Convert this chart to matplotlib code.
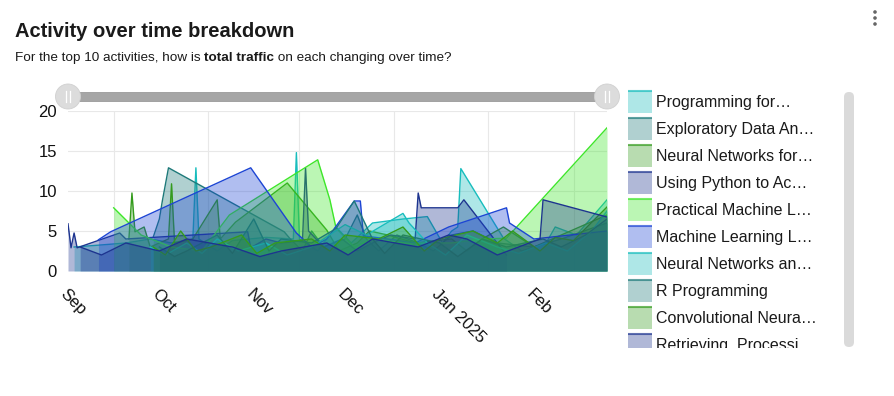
import matplotlib
matplotlib.use("Agg")
import matplotlib.pyplot as plt
from matplotlib.patches import Rectangle, FancyBboxPatch, Circle
import pandas as pd

plt.rcParams['font.family'] = ['Liberation Sans', 'DejaVu Sans']

title = "Activity over time breakdown"
sub_parts = [("For the top 10 activities, how is ", "normal"), ("total traffic", "bold"),
             (" on each changing over time?", "normal")]

legend_labels = ["Programming for\u2026", "Exploratory Data An\u2026", "Neural Networks for\u2026",
                 "Using Python to Ac\u2026", "Practical Machine L\u2026", "Machine Learning L\u2026",
                 "Neural Networks an\u2026", "R Programming", "Convolutional Neura\u2026",
                 "Retrieving, Processi\u2026"]

palette = ["#18bdbd", "#1d7979", "#349b1d", "#1d348f", "#3ee62a", "#1d45d4"]

s1_dates = ["2024-09-03", "2024-09-10", "2024-09-20", "2024-09-28", "2024-10-05", "2024-10-12",
            "2024-10-13", "2024-10-14", "2024-10-20", "2024-10-25", "2024-11-05", "2024-11-14",
            "2024-11-15", "2024-11-16", "2024-11-22", "2024-11-28", "2024-12-03", "2024-12-10",
            "2024-12-20", "2024-12-28", "2025-01-02", "2025-01-05", "2025-01-07", "2025-01-08",
            "2025-01-22", "2025-01-28", "2025-02-05", "2025-02-08", "2025-02-15", "2025-02-25"]
s1_vals = [3, 3.2, 3.5, 4, 3.5, 4, 12.9, 4, 2.5, 3.8, 4.2, 4, 14.8, 4, 2.5, 5.5, 3.5, 6, 6.5, 6.8,
           3.5, 5, 5.5, 12.8, 4.1, 2.5, 3.5, 5.5, 4.5, 8.9]

s2_dates = ["2024-09-29", "2024-10-01", "2024-10-02", "2024-10-04", "2024-11-11", "2024-11-13",
            "2024-11-17", "2024-11-20", "2024-11-24", "2024-12-01", "2024-12-05", "2024-12-08",
            "2024-12-12", "2024-12-18", "2024-12-25", "2024-12-30", "2025-01-05", "2025-01-12",
            "2025-01-20", "2025-02-01", "2025-02-10", "2025-02-25"]
s2_vals = [4.25, 6.5, 8.8, 12.9, 4.9, 4, 2.5, 5, 3, 4, 7, 4, 2.5, 4.5, 3.5, 2.5, 4.5, 5, 3.5, 3,
           4, 6]

s3_dates = ["2024-09-21", "2024-09-22", "2024-09-23", "2024-09-26", "2024-09-28", "2024-10-04",
            "2024-10-05", "2024-10-06", "2024-10-12", "2024-10-20", "2024-10-21", "2024-10-26",
            "2024-11-12", "2024-11-25", "2024-11-29", "2024-12-05", "2024-12-09", "2024-12-15",
            "2024-12-24", "2025-01-05", "2025-01-10", "2025-01-15", "2025-01-22", "2025-02-01",
            "2025-02-10", "2025-02-25"]
s3_vals = [4, 9.75, 4.9, 5.5, 3, 4, 10.9, 3.5, 4, 8.9, 4, 6.1, 11, 5.1, 2.5, 3.5, 5, 4.5, 3.5, 4,
           2.5, 4, 5.5, 3, 4.5, 7]

s4_dates = ["2024-09-01", "2024-09-02", "2024-09-03", "2024-09-04", "2024-09-18", "2024-09-20",
            "2024-10-30", "2024-10-31", "2024-11-05", "2024-11-10", "2024-11-17", "2024-11-18",
            "2024-11-19", "2024-11-24", "2024-11-30", "2024-12-05", "2024-12-10", "2024-12-16",
            "2024-12-24", "2024-12-25", "2024-12-26", "2025-01-07", "2025-01-09", "2025-01-23"]
s4_vals = [5.9, 2.9, 4.75, 2.9, 4.75, 4, 4.9, 2.9, 4, 3.5, 3.8, 12.9, 5, 3, 4, 2.5, 3.5, 4.5, 4,
           9.75, 7.9, 7.9, 8.9, 2]

s5_dates = ["2024-09-16", "2024-09-25", "2024-10-05", "2024-10-15", "2024-10-24", "2024-11-22",
            "2024-11-26", "2024-11-28", "2024-12-04", "2024-12-10", "2024-12-20", "2025-01-05",
            "2025-01-15", "2025-01-23", "2025-02-25"]
s5_vals = [7.9, 4.5, 3, 2.5, 7, 13.9, 8.9, 5.4, 3, 4, 3.5, 3.5, 4, 4.1, 17.9]

s6_dates = ["2024-09-11", "2024-09-15", "2024-10-31", "2024-11-15", "2024-11-20", "2024-11-25",
            "2024-12-04", "2024-12-06", "2024-12-07", "2024-12-15", "2024-12-24", "2025-01-04",
            "2025-01-23", "2025-01-24", "2025-02-01", "2025-02-25"]
s6_vals = [3.9, 4.9, 12.9, 4.75, 3, 4, 8.75, 8.75, 4.4, 4, 3.5, 5.5, 7.9, 6, 4, 5]

s7_dates = ["2024-09-28", "2024-10-03", "2024-10-10", "2024-10-15", "2024-10-20", "2024-10-27",
            "2024-11-05", "2024-11-12", "2024-11-20", "2024-12-01", "2024-12-08", "2024-12-20",
            "2024-12-22", "2024-12-28", "2025-01-03", "2025-01-10", "2025-01-20", "2025-01-27",
            "2025-02-05", "2025-02-12", "2025-02-20", "2025-02-25"]
s7_vals = [3, 2, 3.5, 2.2, 4, 2.5, 3.5, 2, 3, 5.8, 4.5, 7.2, 6, 3.5, 2, 4.5, 3, 2.2, 3.5, 2.5, 5,
           7.5]

s8_dates = ["2024-10-01", "2024-10-06", "2024-10-10", "2024-10-20", "2024-10-25", "2024-11-01",
            "2024-11-06", "2024-11-10", "2024-11-20", "2024-11-28", "2024-12-04", "2024-12-10",
            "2024-12-14", "2024-12-20", "2025-01-01", "2025-01-07", "2025-01-15", "2025-01-23",
            "2025-02-04", "2025-02-10", "2025-02-18", "2025-02-25"]
s8_vals = [3, 1.8, 2.5, 4.5, 2.2, 6.5, 2.5, 4, 3.5, 5.3, 8.75, 4, 2.2, 4.5, 3.5, 1.8, 4, 3, 4, 3,
           4.5, 6.5]

s9_dates = ["2024-09-29", "2024-10-03", "2024-10-08", "2024-10-13", "2024-10-18", "2024-10-28",
            "2024-11-02", "2024-11-08", "2024-11-20", "2024-11-26", "2024-12-01", "2024-12-12",
            "2024-12-20", "2024-12-27", "2025-01-01", "2025-01-12", "2025-01-20", "2025-01-25",
            "2025-02-03", "2025-02-08", "2025-02-14", "2025-02-25"]
s9_vals = [3, 2, 5, 2.5, 3, 4.5, 2.2, 3.5, 4, 2.5, 4.5, 4, 5.5, 2.5, 4, 5, 3.5, 5, 2.5, 4.2, 3.8,
           8]

s10_dates = ["2024-09-05", "2024-09-12", "2024-09-20", "2024-10-01", "2024-10-10", "2024-10-25",
             "2024-11-03", "2024-11-10", "2024-11-25", "2024-12-02", "2024-12-10", "2024-12-25",
             "2025-01-04", "2025-01-10", "2025-01-20", "2025-02-03", "2025-02-04", "2025-02-25"]
s10_vals = [3, 2, 3.5, 2.5, 4, 3, 1.8, 2.5, 3.5, 2, 4, 3, 4.5, 4, 2, 4, 8.9, 6.75]

series_dates = [s1_dates, s2_dates, s3_dates, s4_dates, s5_dates, s6_dates, s7_dates, s8_dates,
                s9_dates, s10_dates]
series_vals = [s1_vals, s2_vals, s3_vals, s4_vals, s5_vals, s6_vals, s7_vals, s8_vals, s9_vals,
               s10_vals]

month_ticks = ["2024-09-01", "2024-10-01", "2024-11-01", "2024-12-01", "2025-01-01", "2025-02-01"]
month_labels = ["Sep", "Oct", "Nov", "Dec", "Jan 2025", "Feb"]
grid_dates = ["2024-09-16", "2024-10-17", "2024-11-16", "2024-12-17", "2025-01-17", "2025-02-14"]
y_ticks = [0, 5, 10, 15, 20]

W, H = 894, 396
fig = plt.figure(figsize=(W / 100, H / 100), dpi=100)

def fx(px):
    return px / W

def fy(py):
    return 1 - py / H

ax = fig.add_axes([fx(68), fy(271), fx(607) - fx(68), fy(111) - fy(271)])
for i, (d, v) in enumerate(zip(series_dates, series_vals)):
    c = palette[i % len(palette)]
    dd = pd.to_datetime(d)
    ax.fill_between(dd, v, 0, color=c, alpha=0.35, lw=0, zorder=2 + i)
    ax.plot(dd, v, color=c, lw=1.0, zorder=2 + i)

ax.set_ylim(0, 20)
ax.set_xlim(pd.Timestamp("2024-09-01"), pd.Timestamp("2025-02-25"))
ax.set_yticks(y_ticks)
ax.set_yticklabels([str(t) for t in y_ticks], fontsize=12, color="#111111")
ax.set_xticks(pd.to_datetime(month_ticks))
ax.set_xticklabels(month_labels, fontsize=12, color="#111111", rotation=-45,
                   ha="left", va="top", rotation_mode="anchor")
ax.set_xticks(pd.to_datetime(grid_dates), minor=True)
ax.tick_params(axis="both", which="both", length=0)
ax.tick_params(axis="x", pad=11)
ax.tick_params(axis="y", pad=8)
ax.grid(True, axis="y", color="#e8e8e8", lw=0.8, zorder=0)
ax.grid(True, axis="x", which="minor", color="#e8e8e8", lw=0.8, zorder=0)
ax.set_axisbelow(True)
for s in ax.spines.values():
    s.set_visible(False)

# overlay in pixel coordinates
ov = fig.add_axes([0, 0, 1, 1], zorder=10)
ov.set_xlim(0, W)
ov.set_ylim(H, 0)
ov.axis("off")
ov.patch.set_alpha(0)

ov.text(15, 37, title, fontsize=14.5, fontweight="bold", color="#1a1a1a", va="baseline")
fig.canvas.draw()
r = fig.canvas.get_renderer()
xpos = 15
for txt, wt in sub_parts:
    t = ov.text(xpos, 61, txt, fontsize=9.7, fontweight=wt, color="#1a1a1a", va="baseline")
    bb = t.get_window_extent(renderer=r)
    xpos += bb.width

# slider
ov.add_patch(Rectangle((68, 92), 539, 9, facecolor="#a6a6a6", edgecolor="#9a9a9a", lw=0.6))
for cx in (68, 607):
    ov.add_patch(Circle((cx, 96.5), 12.5, facecolor="#dcdcdc", edgecolor="#d0d0d0", lw=0.6))
    ov.plot([cx - 2, cx - 2], [91, 102], color="white", lw=0.9)
    ov.plot([cx + 2, cx + 2], [91, 102], color="white", lw=0.9)

# legend
lg = fig.add_axes([fx(620), fy(348), fx(840) - fx(620), fy(88) - fy(348)], zorder=11)
lg.set_xlim(620, 840)
lg.set_ylim(348, 88)
lg.axis("off")
for i, lab in enumerate(legend_labels):
    c = palette[i % len(palette)]
    yc = 102 + 27 * i
    lg.add_patch(Rectangle((628, yc - 11), 24, 22, facecolor=c, alpha=0.35, lw=0, clip_on=True))
    lg.plot([628, 652], [yc - 10.5, yc - 10.5], color=c, lw=1.5, alpha=0.7, clip_on=True,
            solid_capstyle="butt")
    lg.text(656, yc + 0.5, lab, fontsize=11.5, color="#1a1a1a", va="center", ha="left",
            clip_on=True)

# scrollbar
ov.add_patch(FancyBboxPatch((844, 92), 10, 255, boxstyle="round,pad=0,rounding_size=5",
                            facecolor="#dadada", edgecolor="none"))
for yy in (12, 18, 24):
    ov.add_patch(Circle((875, yy), 1.8, facecolor="#666666", edgecolor="none"))

fig.savefig("out.png", dpi=100)
